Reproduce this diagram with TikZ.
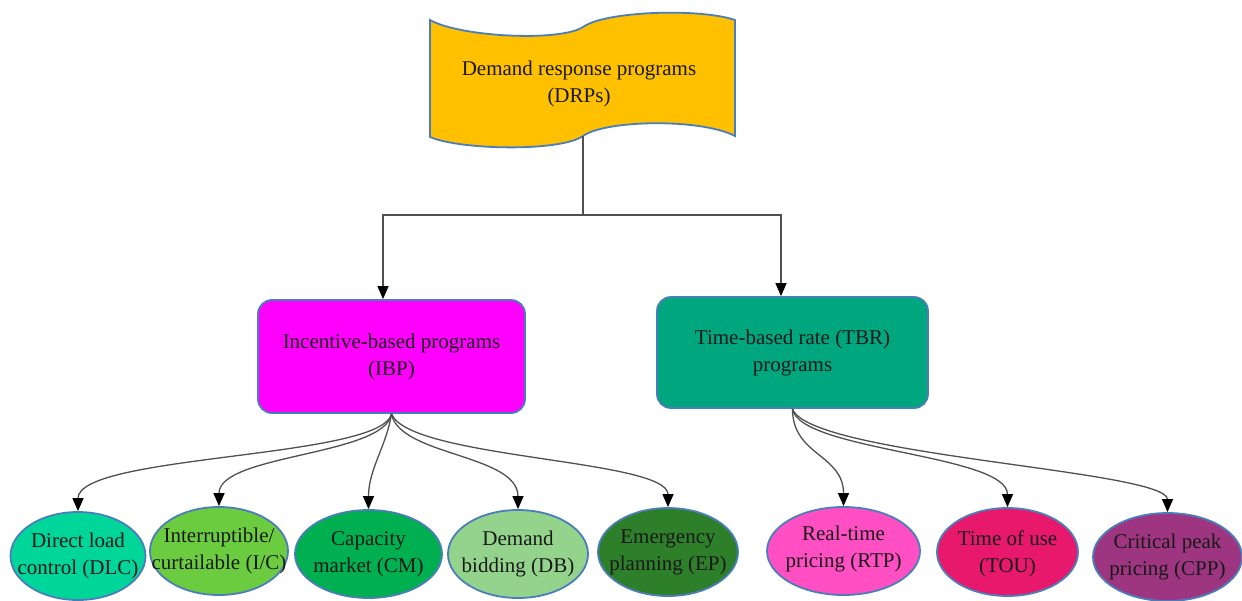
\documentclass[tikz,border=0pt]{standalone}
\usepackage{fontspec}
\setmainfont{Liberation Serif}
\usetikzlibrary{arrows.meta,shapes.geometric}
\definecolor{drpfill}{HTML}{FFC000}
\definecolor{ibpfill}{HTML}{FF00FF}
\definecolor{tbrfill}{HTML}{00A67E}
\definecolor{dlcfill}{HTML}{00D69A}
\definecolor{icfill}{HTML}{6CCC3F}
\definecolor{cmfill}{HTML}{00B050}
\definecolor{dbfill}{HTML}{93D38B}
\definecolor{epfill}{HTML}{2E7F2A}
\definecolor{rtpfill}{HTML}{FF4FC2}
\definecolor{toufill}{HTML}{E8186D}
\definecolor{cppfill}{HTML}{9E3581}
\definecolor{edgeblue}{HTML}{4A7EBB}
\definecolor{lineg}{HTML}{505050}
\begin{document}
\begin{tikzpicture}[x=0.5pt,y=-0.5pt,
  txt/.style={font=\fontsize{10.5}{13.5}\selectfont, text=black!90, align=center, inner sep=0pt},
  box/.style={draw=edgeblue, line width=0.9pt, rounded corners=7pt, inner sep=0pt},
  ell/.style={ellipse, draw=edgeblue, line width=0.9pt, inner sep=0pt, minimum height=44pt},
  conn/.style={draw=lineg, line width=0.65pt, -{Triangle[length=6.5pt,width=5.5pt,color=black]}},
  plain/.style={draw=lineg, line width=0.65pt}
]
\useasboundingbox (0,0) rectangle (1242,600);

% banner
\draw[fill=drpfill, draw=edgeblue, line width=0.9pt]
  (430,20) .. controls (460,37) and (560,42) .. (583,27)
  .. controls (605,11) and (700,8) .. (735,20)
  -- (735,136)
  .. controls (700,118) and (605,120) .. (583,136)
  .. controls (560,152) and (460,150) .. (430,137) -- cycle;
\node[txt] (drp) at (579,84) {Demand response programs\\(DRPs)};
\coordinate (drpb) at (583,136);
\coordinate (junc) at (583,215);

% second level
\node[box, fill=ibpfill, minimum width=133.5pt, minimum height=56.5pt, txt] (ibp) at (391.5,356.5) {Incentive-based programs\\(IBP)};
\node[box, fill=tbrfill, minimum width=135.5pt, minimum height=55.5pt, txt] (tbr) at (792.5,352.5) {Time-based rate (TBR)\\programs};

\draw[plain] (drpb) -- (junc);
\draw[conn] (junc) -| ([xshift=-4.25pt]ibp.north);
\draw[conn] (junc) -| ([xshift=-5.75pt]tbr.north);

% ellipses
\node[ell, fill=dlcfill, minimum width=67.5pt] (dlc) at (78,556) {};
\node[ell, fill=icfill,  minimum width=69pt]   (ic)  at (219,551) {};
\node[ell, fill=cmfill,  minimum width=73.5pt] (cm)  at (368.5,554) {};
\node[ell, fill=dbfill,  minimum width=70pt]   (db)  at (518,554) {};
\node[ell, fill=epfill,  minimum width=70pt]   (ep)  at (668,552) {};
\node[ell, fill=rtpfill, minimum width=76.5pt] (rtp) at (843.5,551) {};
\node[ell, fill=toufill, minimum width=70.5pt] (tou) at (1007.5,552) {};
\node[ell, fill=cppfill, minimum width=74.5pt] (cpp) at (1167.5,557) {};

\node[txt] (dlct) at (dlc) {Direct load\\control (DLC)};
\node[txt] (ict)  at (ic)  {Interruptible/\\curtailable (I/C)};
\node[txt] (cmt)  at (cm)  {Capacity\\market (CM)};
\node[txt] (dbt)  at (db)  {Demand\\bidding (DB)};
\node[txt] (ept)  at (ep)  {Emergency\\planning (EP)};
\node[txt] (rtpt) at ([yshift=1pt]rtp) {Real-time\\pricing (RTP)};
\node[txt] (tout) at ([yshift=-1pt]tou) {Time of use\\(TOU)};
\node[txt] (cppt) at (cpp) {Critical peak\\pricing (CPP)};

% fan-out connectors
\draw[conn] (ibp.south) .. controls +(-10,45) and +(0,-57) .. (dlc.north);
\draw[conn] (ibp.south) .. controls +(-7,42) and +(0,-52) .. (ic.north);
\draw[conn] (ibp.south) .. controls +(-5,32) and +(0,-40) .. (cm.north);
\draw[conn] (ibp.south) .. controls +(8,42) and +(0,-55) .. (db.north);
\draw[conn] (ibp.south) .. controls +(18,45) and +(0,-48) .. (ep.north);

\draw[conn] (tbr.south) .. controls +(0,47) and +(0,-52) .. (rtp.north);
\draw[conn] (tbr.south) .. controls +(7,42) and +(0,-53) .. (tou.north);
\draw[conn] (tbr.south) .. controls +(17,47) and +(0,-42) .. (cpp.north);
\end{tikzpicture}
\end{document}
